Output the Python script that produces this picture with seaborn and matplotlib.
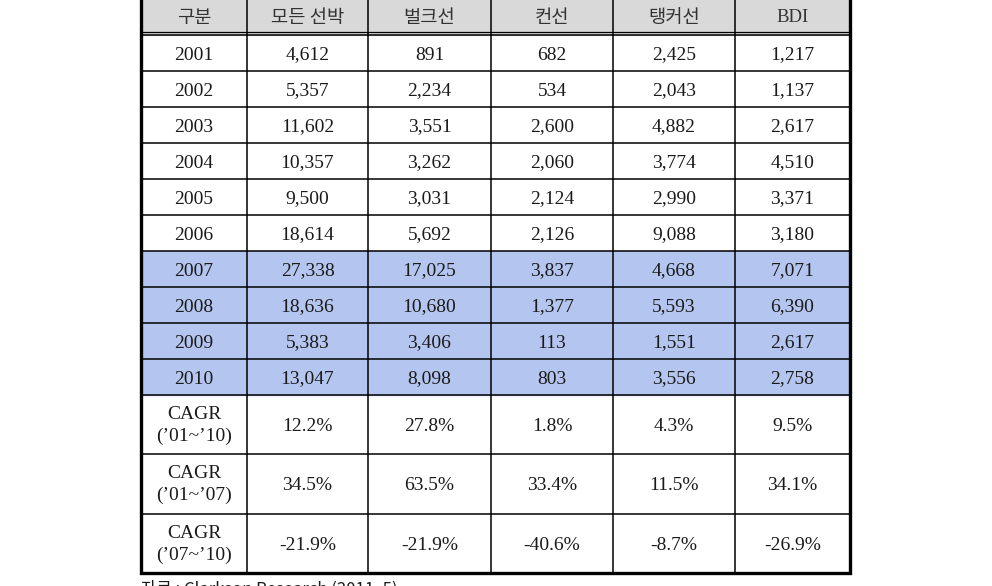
import matplotlib
matplotlib.use('Agg')
import matplotlib.pyplot as plt
from matplotlib.patches import Rectangle
import seaborn as sns

sns.set_theme(style='white')
plt.rcParams['font.family'] = ['Liberation Serif', 'Noto Sans CJK KR']

# table content
header = ['구분', '모든 선박', '벌크선', '컨선', '탱커선', 'BDI']
years = ['2001', '2002', '2003', '2004', '2005', '2006', '2007', '2008', '2009', '2010']
all_ships = [4612, 5357, 11602, 10357, 9500, 18614, 27338, 18636, 5383, 13047]
bulk = [891, 2234, 3551, 3262, 3031, 5692, 17025, 10680, 3406, 8098]
container = [682, 534, 2600, 2060, 2124, 2126, 3837, 1377, 113, 803]
tanker = [2425, 2043, 4882, 3774, 2990, 9088, 4668, 5593, 1551, 3556]
bdi = [1217, 1137, 2617, 4510, 3371, 3180, 7071, 6390, 2617, 2758]
highlight_years = ['2007', '2008', '2009', '2010']

cagr_labels = ['CAGR\n(\u201901~\u201910)', 'CAGR\n(\u201901~\u201907)', 'CAGR\n(\u201907~\u201910)']
cagr_01_10 = [12.2, 27.8, 1.8, 4.3, 9.5]
cagr_01_07 = [34.5, 63.5, 33.4, 11.5, 34.1]
cagr_07_10 = [-21.9, -21.9, -40.6, -8.7, -26.9]
source_note = '자료 : Clarkson Research (2011. 5)'

# layout (pixels)
col_edges = [141, 247, 368, 491, 613, 735, 850]
header_top, header_bottom = -4, 35
year_h, cagr_h = 36, 59.3
gray = '#d9d9d9'
blue = '#b4c6ef'
txt = '#1a1a1a'

fig = plt.figure(figsize=(9.92, 5.86), dpi=100)
ax = fig.add_axes([0, 0, 1, 1])
ax.set_xlim(0, 992)
ax.set_ylim(586, 0)
ax.axis('off')

x0, x1 = col_edges[0], col_edges[-1]
centers = [(a + b) / 2 for a, b in zip(col_edges[:-1], col_edges[1:])]

# header
ax.add_patch(Rectangle((x0, header_top), x1 - x0, header_bottom - header_top, color=gray, zorder=0))
for cx, h in zip(centers, header):
    fam = ['Liberation Serif'] if h.isascii() else ['Noto Sans CJK KR']
    ax.text(cx, 17, h, ha='center', va='center',
            fontsize=13.5, color='#333333', family=fam)

# year rows
cols = [all_ships, bulk, container, tanker, bdi]
fs = 14
base_off = 6.5  # baseline below the row centre
y = header_bottom
row_lines = [y]
for i, yr in enumerate(years):
    if yr in highlight_years:
        ax.add_patch(Rectangle((x0, y), x1 - x0, year_h, color=blue, zorder=0))
    by = y + year_h / 2 + base_off
    ax.text(centers[0], by, yr, ha='center', va='baseline', fontsize=fs, color=txt)
    for cx, vals in zip(centers[1:], cols):
        ax.text(cx, by, f'{vals[i]:,}', ha='center', va='baseline', fontsize=fs, color=txt)
    y += year_h
    row_lines.append(y)

# CAGR rows
for lab, vals in zip(cagr_labels, [cagr_01_10, cagr_01_07, cagr_07_10]):
    cy = y + cagr_h / 2 + 1
    ax.text(centers[0], cy, lab, ha='center', va='center', fontsize=fs, color=txt,
            linespacing=1.35)
    for cx, v in zip(centers[1:], vals):
        ax.text(cx, cy - 1 + base_off, f'{v:.1f}%', ha='center', va='baseline',
                fontsize=fs, color=txt)
    y += cagr_h
    row_lines.append(y)
bottom = y

# grid lines
ax.plot([x0, x1], [header_bottom - 3.3, header_bottom - 3.3], color='black', lw=0.9)
for ry in row_lines[:-1]:
    ax.plot([x0, x1], [ry, ry], color='black', lw=1.1)
for cx in col_edges[1:-1]:
    ax.plot([cx, cx], [header_top, bottom], color='black', lw=1.1)
ax.plot([x0, x0, x1, x1], [header_top, bottom, bottom, header_top], color='black',
        lw=2.4, solid_joinstyle='miter')

ax.text(x0, bottom + 8, source_note, ha='left', va='top', fontsize=12, color=txt,
        family=['Noto Sans CJK KR'])

fig.savefig('out.png', dpi=100)
